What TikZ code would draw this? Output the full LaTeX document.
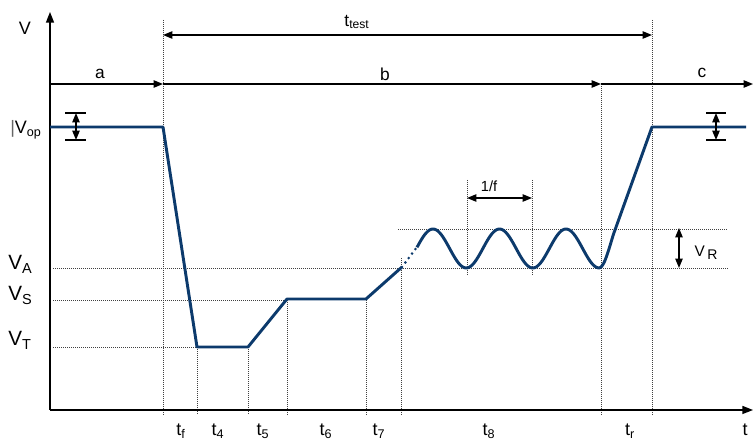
\documentclass[tikz,border=0pt]{standalone}
\usepackage{fontspec}
\setmainfont{Liberation Sans}
\usetikzlibrary{arrows.meta}
\definecolor{wave}{RGB}{12,58,108}
\begin{document}
\begin{tikzpicture}[x=0.75pt,y=-0.75pt,
  sig/.style={wave,line width=2.2pt,line join=round},
  guide/.style={line width=0.5pt,densely dotted,black!75},
  axis/.style={line width=1.1pt,-{Triangle[length=8pt,width=6pt]}},
  dimr/.style={line width=1pt,-{Triangle[length=7pt,width=5.5pt]}},
  dimb/.style={line width=1pt,{Triangle[length=7pt,width=5.5pt]}-{Triangle[length=7pt,width=5.5pt]}},
  tick/.style={line width=0.8pt},
  vlab/.style={font=\fontsize{15.5}{18}\selectfont,anchor=base west},
  tlab/.style={font=\fontsize{13.5}{16}\selectfont,anchor=base,inner sep=0pt},
  seg/.style={font=\fontsize{13}{15}\selectfont},
]
\useasboundingbox (0,0) rectangle (754,441);

% guide coordinates
\coordinate (o) at (50,410);
\coordinate (ytop) at (50,12);
\coordinate (xend) at (753,410);

% dotted guides
\draw[guide] (163,20) -- (163,415);
\draw[guide] (652,20) -- (652,415);
\draw[guide] (601,86) -- (601,415);
\draw[guide] (197,347) -- (197,415);
\draw[guide] (248,347) -- (248,415);
\draw[guide] (287,300) -- (287,415);
\draw[guide] (366,300) -- (366,415);
\draw[guide] (401,258) -- (401,415);
\draw[guide] (467,180) -- (467,275);
\draw[guide] (532,180) -- (532,275);
\draw[guide] (53,268) -- (728,268);
\draw[guide] (398,229) -- (728,229);
\draw[guide] (53,300) -- (287,300);
\draw[guide] (53,347) -- (197,347);

% axes
\draw[axis] (o) -- (ytop);
\draw[axis] (o) -- (xend);

% signal
\coordinate (p0) at (50,127);
\coordinate (p1) at (163,127);
\coordinate (p2) at (197,347);
\coordinate (p3) at (248,347);
\coordinate (p4) at (287,299);
\coordinate (p5) at (366,299);
\coordinate (p6) at (402,267);
\coordinate (p7) at (417,247);
\coordinate (p8) at (652,127);
\coordinate (p9) at (746,127);
\draw[sig] (p0) -- (p1) -- (p2) -- (p3) -- (p4) -- (p5) -- (p6);
\draw[wave,line width=2.2pt,line cap=round,dash pattern=on 0pt off 4.2pt] (p6) -- (p7);
\draw[sig] plot[domain=417:599.25,samples=120] (\x,{248.5-19.5*cos(5.41353*(\x-433))})
  .. controls (605,268) and (611,240) .. (615,230) -- (p8) -- (p9);

% top dimension arrows
\coordinate (ta) at (163,35);
\coordinate (tb) at (652,35);
\draw[dimb] (ta) -- (tb);
\node[seg] (ttest) at (357,22) {t\textsubscript{test}};
\coordinate (a0) at (50,84);
\coordinate (a1) at (163,84);
\coordinate (b1) at (601,84);
\coordinate (c1) at (753,84);
\draw[dimr] (a0) -- (a1);
\draw[dimr] (a1) -- (b1);
\draw[dimr] (b1) -- (c1);
\node[seg] (la) at (100,74) {a};
\node[seg] (lb) at (385,74) {b};
\node[seg] (lc) at (702,73) {c};

% Vop tolerance marks
\draw[tick] (65,113) -- (86,113) (65,140) -- (86,140);
\draw[dimb] (76,113) -- (76,140);
\draw[tick] (706,113) -- (726,113) (706,140) -- (726,140);
\draw[dimb] (716,113) -- (716,140);

% 1/f
\draw[dimb] (467,198) -- (532,198);
\node[font=\fontsize{11}{13}\selectfont] (lf) at (489,186) {1/f};

% VR
\draw[dimb] (679,228) -- (679,268);
\node[font=\fontsize{11.5}{13}\selectfont,anchor=base west] (lvr) at (690,257) {V\,\raisebox{-0.35ex}{\fontsize{10.5}{12}\selectfont R}};

% left labels
\node[font=\fontsize{13.5}{16}\selectfont] (lv) at (25,28) {V};
\node[font=\fontsize{13.5}{16}\selectfont,anchor=base west,inner sep=0pt] (lvop) at (10,134) {\textcolor{black!60}{|}V\textsubscript{op}};
\node[vlab,inner sep=0pt] (lva) at (8,270) {V\textsubscript{A}};
\node[vlab,inner sep=0pt] (lvs) at (8,301) {V\textsubscript{S}};
\node[vlab,inner sep=0pt] (lvt) at (8,346) {V\textsubscript{T}};

% bottom labels
\node[tlab] (ltf) at (181,436) {t\textsubscript{f}};
\node[tlab] (lt4) at (218,436) {t\textsubscript{4}};
\node[tlab] (lt5) at (263,436) {t\textsubscript{5}};
\node[tlab] (lt6) at (326,436) {t\textsubscript{6}};
\node[tlab] (lt7) at (379,436) {t\textsubscript{7}};
\node[tlab] (lt8) at (489,436) {t\textsubscript{8}};
\node[tlab] (ltr) at (630,436) {t\textsubscript{r}};
\node[tlab] (lt) at (745,436) {t};
\end{tikzpicture}
\end{document}
